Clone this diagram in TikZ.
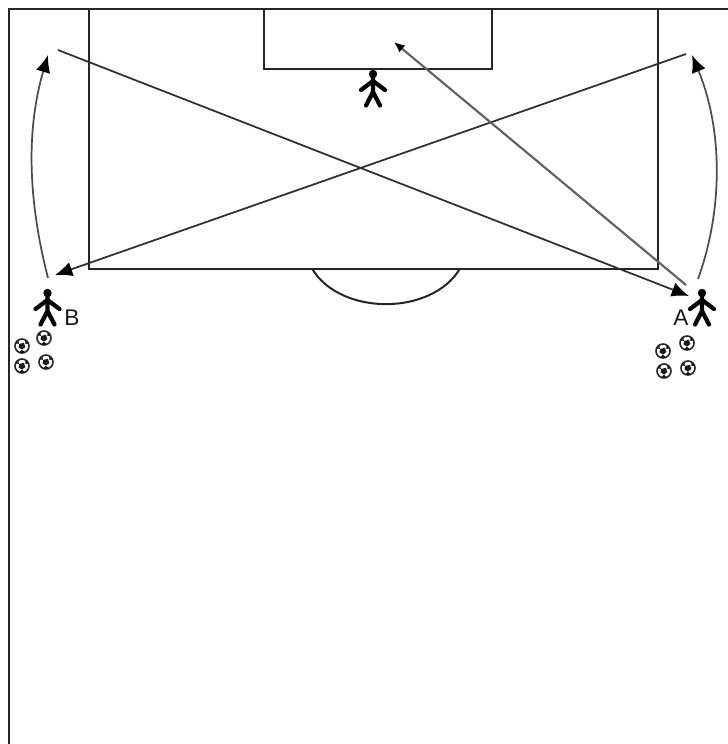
\documentclass[tikz,border=0pt]{standalone}
\usepackage{fontspec}
\setmainfont{Liberation Sans}
\usetikzlibrary{arrows.meta}
\tikzset{
  line/.style={draw=black!85,line width=1.5pt},
  run/.style={draw=black!82,line width=1.3pt,-{Latex[length=13pt,width=11pt,black]}},
  runc/.style={draw=black!70,line width=1.3pt,-{Latex[length=13pt,width=11pt,black]}},
  shot/.style={draw=black!62,line width=1.6pt,-{Latex[length=8pt,width=7pt,black]}},
  limb/.style={draw=black,line width=3.2pt,line cap=round,line join=round},
  lab/.style={inner sep=0pt,font=\fontsize{17}{17}\selectfont,text=black!90},
  player/.pic={
    \fill[black] (0,-13) circle (4.2);
    \draw[limb] (-12,3) -- (0,-6) -- (12,3);
    \draw[limb] (0,-10) -- (0,5) (-7,18.5) -- (0,5) -- (7,18.5);
  },
  ball/.pic={
    \draw[black!85,line width=1.2pt,fill=white] (0,0) circle (7);
    \fill[black!90] (-2.8,-2) -- (1.8,-3.2) -- (3.4,1) -- (0,3.6) -- (-3.4,1.4) -- cycle;
    \fill[black!90] (-6.8,-2.5) -- (-3.5,-6.2) -- (-3.2,-2.2) -- cycle;
    \fill[black!90] (6.8,-2.5) -- (3.5,-6.2) -- (3.4,-2) -- cycle;
    \fill[black!90] (-3.4,6.6) -- (3.4,6.6) -- (0,3.8) -- cycle;
  }
}
\begin{document}
\begin{tikzpicture}[x=0.75pt,y=-0.75pt]
\useasboundingbox (0,0) rectangle (728,744);
\fill[white] (0,0) rectangle (728,744);
% field
\draw[line] (728,9) -- (9,9) -- (9,744);
\draw[line] (89,9) -- (89,268.5) -- (658,268.5) -- (658,9);
\draw[line] (263.5,9) -- (263.5,69) -- (491.5,69) -- (491.5,9);
\draw[line] (312,268.5) .. controls (340,316) and (432,316) .. (460,268.5);
% ends of connectors
\coordinate (c1s) at (58,50);   \coordinate (c1e) at (689,296);
\coordinate (c2s) at (686,54);  \coordinate (c2e) at (55,275);
\coordinate (c3s) at (686,285); \coordinate (c3e) at (394,42);
\coordinate (c4s) at (48,278);  \coordinate (c4e) at (48,55);
\coordinate (c5s) at (698,279); \coordinate (c5e) at (692,55);
\draw[run] (c1s) -- (c1e);
\draw[run] (c2s) -- (c2e);
\draw[shot] (c3s) -- (c3e);
\draw[runc] (c4s) .. controls (28,200) and (26,130) .. (c4e);
\draw[runc] (c5s) .. controls (723,210) and (723,130) .. (c5e);
% players
\pic at (373,87) {player};
\pic at (47.5,306) {player};
\pic at (702,306) {player};
\node[lab] (labB) at (72,318) {B};
\node[lab] (labA) at (681,317.5) {A};
% balls
\pic at (22,346) {ball};
\pic at (44,338) {ball};
\pic at (22,366) {ball};
\pic at (46,362) {ball};
\pic at (663,351) {ball};
\pic at (687,343) {ball};
\pic at (664,371) {ball};
\pic at (688,368) {ball};
\end{tikzpicture}
\end{document}
